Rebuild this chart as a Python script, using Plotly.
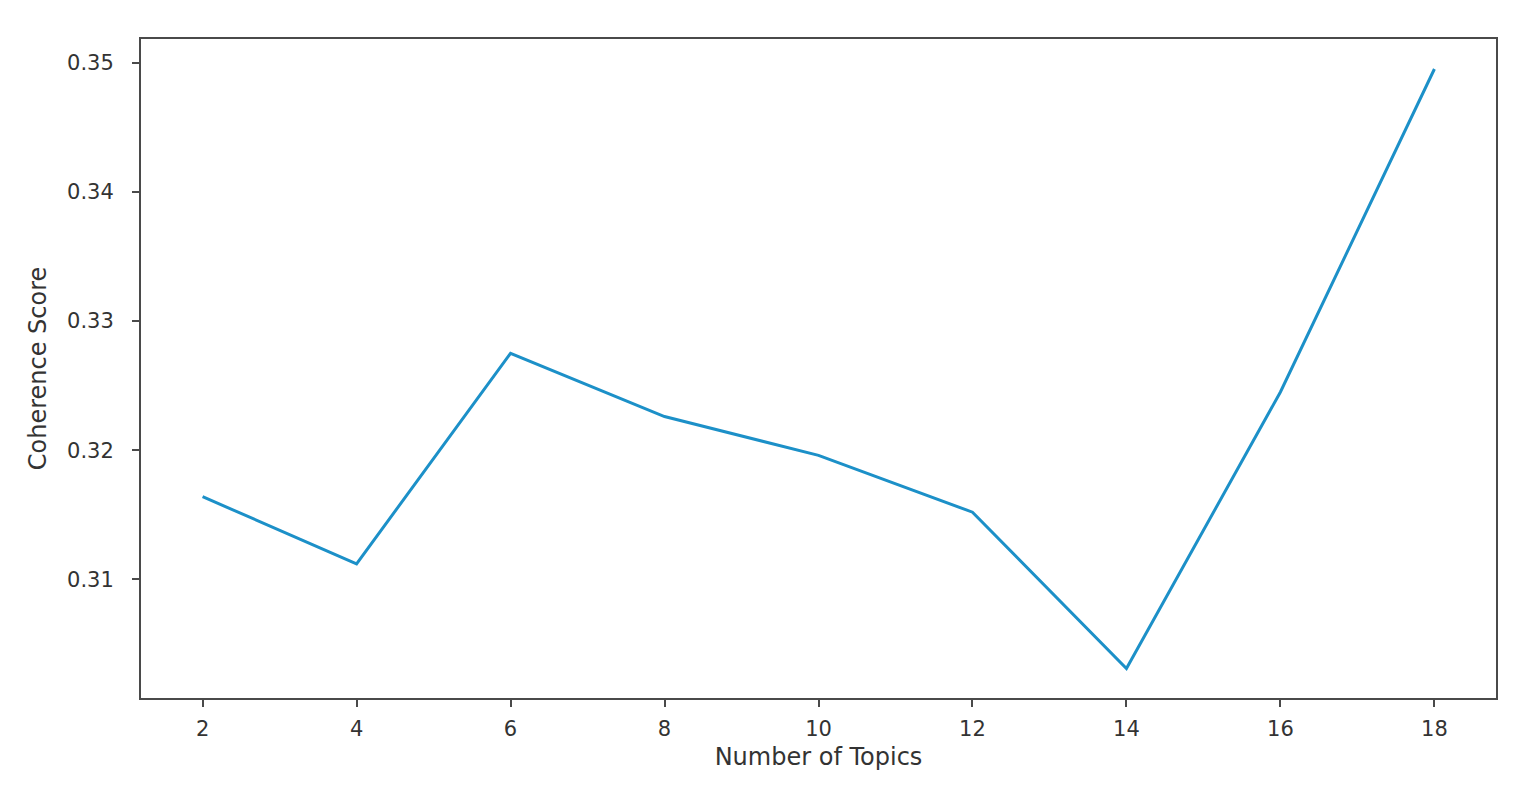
import plotly.graph_objects as go

# coherence score per number of topics
num_topics = [2, 4, 6, 8, 10, 12, 14, 16, 18]
coherence = [0.3164, 0.3112, 0.3275, 0.3226, 0.3196, 0.3152, 0.3031, 0.3245, 0.3495]

x_ticks = [2, 4, 6, 8, 10, 12, 14, 16, 18]
y_ticks = [0.31, 0.32, 0.33, 0.34, 0.35]

fig = go.Figure()
fig.add_trace(go.Scatter(
    x=num_topics,
    y=coherence,
    mode='lines',
    line=dict(color='#1c90c8', width=3),
    showlegend=False
))

axis_style = dict(
    showgrid=False,
    zeroline=False,
    showline=True,
    linecolor='#4a4a4a',
    linewidth=2,
    mirror=True,
    ticks='outside',
    ticklen=7,
    tickwidth=1.5,
    tickcolor='#4a4a4a',
    tickfont=dict(size=21, color='#333333'),
)

fig.update_xaxes(
    range=[1.2, 18.8],
    tickvals=x_ticks,
    ticklabelstandoff=4,
    title=dict(text='Number of Topics', font=dict(size=24, color='#333333'), standoff=8),
    **axis_style
)
fig.update_yaxes(
    range=[0.30082, 0.35182],
    tickvals=y_ticks,
    tickformat='.2f',
    ticklabelstandoff=14,
    title=dict(text='Coherence Score', font=dict(size=24, color='#333333'), standoff=14),
    **axis_style
)

fig.update_layout(
    width=1528,
    height=800,
    margin=dict(l=133, r=40, t=31, b=110),
    plot_bgcolor='white',
    paper_bgcolor='white',
    font=dict(family='DejaVu Sans'),
)

fig.write_html("out.html")
